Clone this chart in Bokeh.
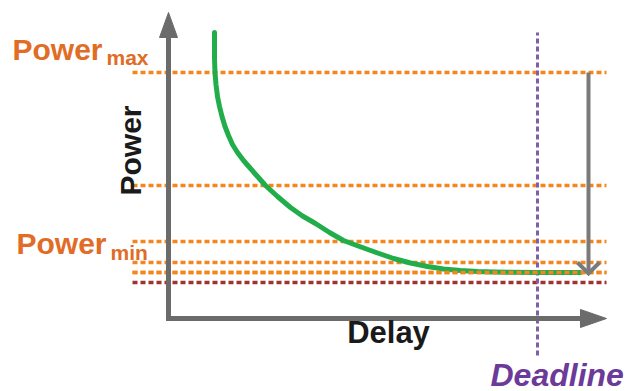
import math

from bokeh.core.properties import value
from bokeh.embed import file_html
from bokeh.models import Range1d
from bokeh.plotting import figure
from bokeh.resources import INLINE

# Conceptual power/delay trade-off. Origin (0, 0) is where the two axes meet.
power_levels = [246, 133, 77, 56, 46]      # orange dashed reference levels
power_floor = 36                           # dark red floor level
power_max = 246
power_min = 77

curve_delay = [46, 46, 46.5, 47.5, 49, 51, 53.5, 56.5, 60, 64, 69, 75, 82, 89, 97, 109, 122,
               134, 147, 161, 175, 187, 198, 212, 225, 242, 259, 275, 292, 309, 325, 372, 412]
curve_power = [286, 260, 246, 234, 222, 212, 202, 192, 183, 174, 166, 158, 150, 142, 133, 122,
               111, 102.5, 95, 86, 78, 73.5, 69.5, 64.5, 60, 55.5, 52, 49.5, 48, 47, 46.5, 46, 46]

deadline = 369
axis_x_end = 438
axis_y_end = 306
level_x_start = -36
reduction_x = 420
reduction_to = 44

AXIS = "#6b6b6b"
ORANGE = "#f5861f"
TEXT_ORANGE = "#e06c26"
DARK_RED = "#9b3432"
GREEN = "#22ad4b"
PURPLE_LINE = "#7f5fa8"
PURPLE_TEXT = "#6c3a98"
FONT = value("Liberation Sans")

p = figure(width=626, height=391, x_range=Range1d(-168, 458), y_range=Range1d(-73, 318),
           min_border=0, x_axis_type=None, y_axis_type=None, toolbar_location=None,
           output_backend="svg", outline_line_color=None)
p.grid.visible = False
p.background_fill_color = "white"
p.border_fill_color = "white"

# dashed horizontal levels
for lv in power_levels:
    p.line([level_x_start, axis_x_end], [lv, lv], line_color=ORANGE, line_width=3.5, line_dash="5 3")
p.line([level_x_start, axis_x_end], [power_floor, power_floor], line_color=DARK_RED,
       line_width=3.5, line_dash="5 3")

# deadline marker
p.line([deadline, deadline], [-37, 286], line_color=PURPLE_LINE, line_width=3, line_dash="5 3")

# power/delay curve
p.line(curve_delay, curve_power, line_color=GREEN, line_width=5, line_cap="round", line_join="round")

# redraw the level the curve settles on so its dashes stay on top
p.line([level_x_start, axis_x_end], [power_levels[-1]] * 2, line_color=ORANGE, line_width=3.5,
       line_dash="5 3")

# axes with arrowheads
head_len, head_half = 25, 9
p.line([0, 0, axis_x_end - head_len], [axis_y_end - head_len, 0, 0], line_color=AXIS,
       line_width=5, line_join="miter")
p.patch([-head_half, head_half, 0], [axis_y_end - head_len] * 2 + [axis_y_end], color=AXIS)
p.patch([axis_x_end - head_len - 1] * 2 + [axis_x_end], [-head_half, head_half, 0], color=AXIS)

# power reduction arrow
ARROW = "#7a7a7a"
p.line([reduction_x, reduction_x], [power_max, reduction_to + 2], line_color=ARROW, line_width=4)
p.line([reduction_x - 11, reduction_x, reduction_x + 11],
       [reduction_to + 12, reduction_to + 1, reduction_to + 12],
       line_color=ARROW, line_width=4, line_join="miter")

# level labels
p.text([-156], [power_max + 23], text=["Power"], text_font=FONT, text_font_style="bold",
       text_font_size="30px", text_color=TEXT_ORANGE, text_baseline="alphabetic")
p.text([-62], [power_max + 15], text=["max"], text_font=FONT, text_font_style="bold",
       text_font_size="21px", text_color=TEXT_ORANGE, text_baseline="alphabetic")
p.text([-152], [power_min - 2], text=["Power"], text_font=FONT, text_font_style="bold",
       text_font_size="30px", text_color=TEXT_ORANGE, text_baseline="alphabetic")
p.text([-58], [power_min - 11], text=["min"], text_font=FONT, text_font_style="bold",
       text_font_size="21px", text_color=TEXT_ORANGE, text_baseline="alphabetic")

# axis titles
p.text([-38], [168], text=["Power"], angle=math.pi / 2, text_font=FONT, text_font_style="bold",
       text_font_size="30px", text_color="#1a1a1a", text_align="center", text_baseline="middle")
p.text([220], [-14], text=["Delay"], text_font=FONT, text_font_style="bold",
       text_font_size="31px", text_color="#1a1a1a", text_align="center", text_baseline="alphabetic")
p.text([322], [-56], text=["Deadline"], text_font=FONT, text_font_style="bold italic",
       text_font_size="32px", text_color=PURPLE_TEXT, text_baseline="alphabetic")

open("out.html", "w").write(file_html(p, INLINE))
